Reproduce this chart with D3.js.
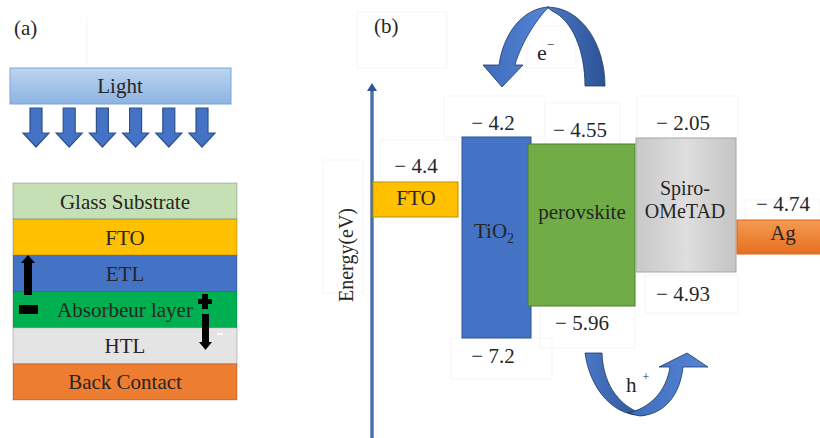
<!DOCTYPE html>
<html>
<head>
<meta charset="utf-8">
<script src="https://cdn.jsdelivr.net/npm/d3@7/dist/d3.min.js"></script>
<style>
  html, body { margin: 0; padding: 0; background: #fff; }
  svg { display: block; }
  text { font-family: "Liberation Serif", "Times New Roman", serif; fill: #262626; }
</style>
</head>
<body>
<svg id="chart" width="820" height="438"></svg>
<script>
// ---- data -------------------------------------------------------------
// (a) device stack, top to bottom
const layerNames = ["Glass Substrate", "FTO", "ETL", "Absorbeur layer", "HTL", "Back Contact"];
const layerColors = ["#c5e0b4", "#ffc000", "#4472c4", "#00b050", "#e4e4e4", "#ed7d31"];
const lightArrows = [0, 1, 2, 3, 4, 5];

// (b) energy levels (eV)
const materials = ["FTO", "TiO2", "perovskite", "Spiro-OMeTAD", "Ag"];
const upperLevel = [-4.4, -4.2, -4.55, -2.05, -4.74];
const lowerLevel = [null, -7.2, -5.96, -4.93, null];

// ---- schematic geometry of the band boxes (not drawn to energy scale) --
const boxGeom = [
  { x0: 373, x1: 458, y0: 182, y1: 217, fill: "#ffc000", stroke: "#bf9000",
    upY: 173, upX: 416, lowY: null, lowX: null },
  { x0: 462, x1: 531, y0: 137, y1: 338, fill: "#4472c4", stroke: "#2f5597",
    upY: 130, upX: 493, lowY: 363, lowX: 493 },
  { x0: 528, x1: 635, y0: 144, y1: 306, fill: "#70ad47", stroke: "#4e7d31",
    upY: 137, upX: 580, lowY: 330, lowX: 582 },
  { x0: 636, x1: 736, y0: 138, y1: 272, fill: "url(#gSpiro)", stroke: "#a6a6a6",
    upY: 130, upX: 683, lowY: 301, lowX: 683 },
  { x0: 737, x1: 822, y0: 220, y1: 254, fill: "url(#gAg)", stroke: "#d9661a",
    upY: 211, upX: 783, lowY: null, lowX: null }
];

const svg = d3.select("#chart");
const defs = svg.append("defs");

function vGrad(id, stops) {
  const g = defs.append("linearGradient").attr("id", id)
    .attr("x1", 0).attr("y1", 0).attr("x2", 0).attr("y2", 1);
  stops.forEach(([o, c]) => g.append("stop").attr("offset", o).attr("stop-color", c));
}
function hGrad(id, stops) {
  const g = defs.append("linearGradient").attr("id", id)
    .attr("x1", 0).attr("y1", 0).attr("x2", 1).attr("y2", 0);
  stops.forEach(([o, c]) => g.append("stop").attr("offset", o).attr("stop-color", c));
}
vGrad("gLight", [[0, "#bcd5f0"], [1, "#8db3e2"]]);
vGrad("gAg", [[0, "#f59a52"], [1, "#e66f1f"]]);
hGrad("gSpiro", [[0, "#c8c8c8"], [0.5, "#dedede"], [1, "#c4c4c4"]]);
hGrad("gDark", [[0, "#4a78c8"], [1, "#2c5293"]]);
hGrad("gLightBlue", [[0, "#3f6dbd"], [1, "#5585d4"]]);

const fmt = v => "\u2212 " + String(Math.abs(v));

// ---- faint text-box frames --------------------------------------------
const frames = [
  [357, 12, 90, 56], [527, 26, 49, 42], [444, 96, 101, 41], [545, 103, 75, 41],
  [380, 140, 78, 42], [451, 338, 101, 41], [323, 160, 40, 133], [540, 306, 95, 42],
  [637, 96, 101, 42], [645, 275, 93, 38], [745, 200, 75, 20]
];
svg.append("g").selectAll("rect").data(frames).join("rect")
  .attr("x", d => d[0]).attr("y", d => d[1]).attr("width", d => d[2]).attr("height", d => d[3])
  .attr("fill", "none").attr("stroke", "#f5f5f5").attr("stroke-width", 1);
svg.append("line").attr("x1", 87).attr("x2", 87).attr("y1", 17).attr("y2", 65)
  .attr("stroke", "#f5f5f5");

// ---- panel (a) ---------------------------------------------------------
svg.append("text").attr("x", 14).attr("y", 35).attr("font-size", 21).text("(a)");

svg.append("rect").attr("x", 10).attr("y", 68).attr("width", 221).attr("height", 36)
  .attr("fill", "url(#gLight)").attr("stroke", "#79a5db").attr("stroke-width", 1);
svg.append("text").attr("x", 120).attr("y", 93).attr("text-anchor", "middle")
  .attr("font-size", 21).text("Light");

const arrowX = d3.scalePoint().domain(lightArrows).range([36, 202]);
svg.append("g").selectAll("path").data(lightArrows).join("path")
  .attr("d", d => {
    const c = arrowX(d);
    return `M${c - 6},108 L${c + 6},108 L${c + 6},133 L${c + 13},133 L${c},147 L${c - 13},133 L${c - 6},133 Z`;
  })
  .attr("fill", "#4472c4").attr("stroke", "#2f528f").attr("stroke-width", 1.2)
  .attr("stroke-linejoin", "miter");

const layerY = d3.scaleBand().domain(layerNames).range([183, 400]).padding(0);
const stack = svg.append("g");
stack.selectAll("rect").data(layerNames).join("rect")
  .attr("x", 13).attr("width", 224)
  .attr("y", d => layerY(d)).attr("height", layerY.bandwidth())
  .attr("fill", (d, i) => layerColors[i])
  .attr("stroke", "rgba(0,0,0,0.22)").attr("stroke-width", 1);
stack.selectAll("text").data(layerNames).join("text")
  .attr("x", 125).attr("y", d => layerY(d) + layerY.bandwidth() / 2 + 7.5)
  .attr("text-anchor", "middle").attr("font-size", 21).text(d => d);

// charge separation markers
svg.append("path")
  .attr("d", "M24,295 L32,295 L32,263 L35,263 L28,255 L21,263 L24,263 Z")
  .attr("fill", "#000");
svg.append("rect").attr("x", 19).attr("y", 305).attr("width", 19).attr("height", 9).attr("fill", "#000");
svg.append("path")
  .attr("d", "M202,294 L208,294 L208,299 L212,299 L212,304 L208,304 L208,309 L202,309 L202,304 L198,304 L198,299 L202,299 Z")
  .attr("fill", "#000");
svg.append("path")
  .attr("d", "M202,314 L209,314 L209,342 L212,342 L205.5,350 L199,342 L202,342 Z")
  .attr("fill", "#000");
svg.append("line").attr("x1", 217).attr("x2", 223).attr("y1", 334).attr("y2", 334)
  .attr("stroke", "#fff").attr("stroke-width", 1.5);

// ---- panel (b) ---------------------------------------------------------
svg.append("text").attr("x", 374).attr("y", 33).attr("font-size", 21).text("(b)");

// energy axis
svg.append("line").attr("x1", 372).attr("x2", 372).attr("y1", 89).attr("y2", 438)
  .attr("stroke", "#2f5597").attr("stroke-width", 3.2);
svg.append("line").attr("x1", 372).attr("x2", 372).attr("y1", 90).attr("y2", 438)
  .attr("stroke", "#5c86cf").attr("stroke-width", 1);
svg.append("path").attr("d", "M372,83 L377,91 L367,91 Z").attr("fill", "#2f5597");
svg.append("text")
  .attr("transform", "translate(353,255) rotate(-90)")
  .attr("text-anchor", "middle").attr("font-size", 20).text("Energy(eV)");

const bands = svg.append("g");
const order = [0, 1, 2, 3, 4];
bands.selectAll("rect").data(order).join("rect")
  .attr("x", i => boxGeom[i].x0).attr("y", i => boxGeom[i].y0)
  .attr("width", i => boxGeom[i].x1 - boxGeom[i].x0)
  .attr("height", i => boxGeom[i].y1 - boxGeom[i].y0)
  .attr("fill", i => boxGeom[i].fill).attr("stroke", i => boxGeom[i].stroke)
  .attr("stroke-width", 1);

// level values
bands.selectAll("text.up").data(order).join("text").attr("class", "up")
  .attr("x", i => boxGeom[i].upX).attr("y", i => boxGeom[i].upY)
  .attr("text-anchor", "middle").attr("font-size", 21)
  .text(i => fmt(upperLevel[i]));
bands.selectAll("text.low").data(order.filter(i => lowerLevel[i] !== null)).join("text")
  .attr("class", "low")
  .attr("x", i => boxGeom[i].lowX).attr("y", i => boxGeom[i].lowY)
  .attr("text-anchor", "middle").attr("font-size", 21)
  .text(i => fmt(lowerLevel[i]));

// material names
svg.append("text").attr("x", 416).attr("y", 205).attr("text-anchor", "middle")
  .attr("font-size", 21).text(materials[0]);
const tio = svg.append("text").attr("x", 474).attr("y", 238).attr("font-size", 21);
tio.append("tspan").text(materials[1].slice(0, 3));
tio.append("tspan").attr("font-size", 14).attr("dy", 5).text(materials[1].slice(3));
svg.append("text").attr("x", 582).attr("y", 219).attr("text-anchor", "middle")
  .attr("font-size", 21).text(materials[2]);
const spiro = materials[3].split("-");
svg.append("text").attr("x", 685).attr("y", 195).attr("text-anchor", "middle")
  .attr("font-size", 20).text(spiro[0] + "-");
svg.append("text").attr("x", 685).attr("y", 218).attr("text-anchor", "middle")
  .attr("font-size", 20).text(spiro[1]);
svg.append("text").attr("x", 783).attr("y", 240).attr("text-anchor", "middle")
  .attr("font-size", 21).text(materials[4]);

// electron transfer arrow
svg.append("path")
  .attr("d", "M547,7 C582,7 605,45 605,86 L585,86 C585,50 572,20 552,11 Z")
  .attr("fill", "url(#gDark)").attr("stroke", "#1f3864").attr("stroke-width", 0.8);
svg.append("path")
  .attr("d", "M483,65 L499,65 C503,35 522,8 549,7 C540,15 522,40 515,65 L523,65 L502,87 Z")
  .attr("fill", "url(#gLightBlue)").attr("stroke", "#1f3864").attr("stroke-width", 0.8);
const eLab = svg.append("text").attr("x", 537).attr("y", 60).attr("font-size", 22);
eLab.append("tspan").text("e");
eLab.append("tspan").attr("font-size", 13).attr("dy", -11).text("\u2212");

// hole transfer arrow
svg.append("path")
  .attr("d", "M585,353 L602,353 C603,380 615,405 645,415 C615,418 590,390 585,353 Z")
  .attr("fill", "url(#gDark)").attr("stroke", "#1f3864").attr("stroke-width", 0.8);
svg.append("path")
  .attr("d", "M628,413 C650,408 666,392 670,367 L659,367 L687,353 L708,367 L683,367 C680,395 665,414 640,416 Z")
  .attr("fill", "url(#gLightBlue)").attr("stroke", "#1f3864").attr("stroke-width", 0.8);
const hLab = svg.append("text").attr("x", 626).attr("y", 392).attr("font-size", 21);
hLab.append("tspan").text("h");
hLab.append("tspan").attr("font-size", 12).attr("dx", 6).attr("dy", -11).text("+");
</script>
</body>
</html>
